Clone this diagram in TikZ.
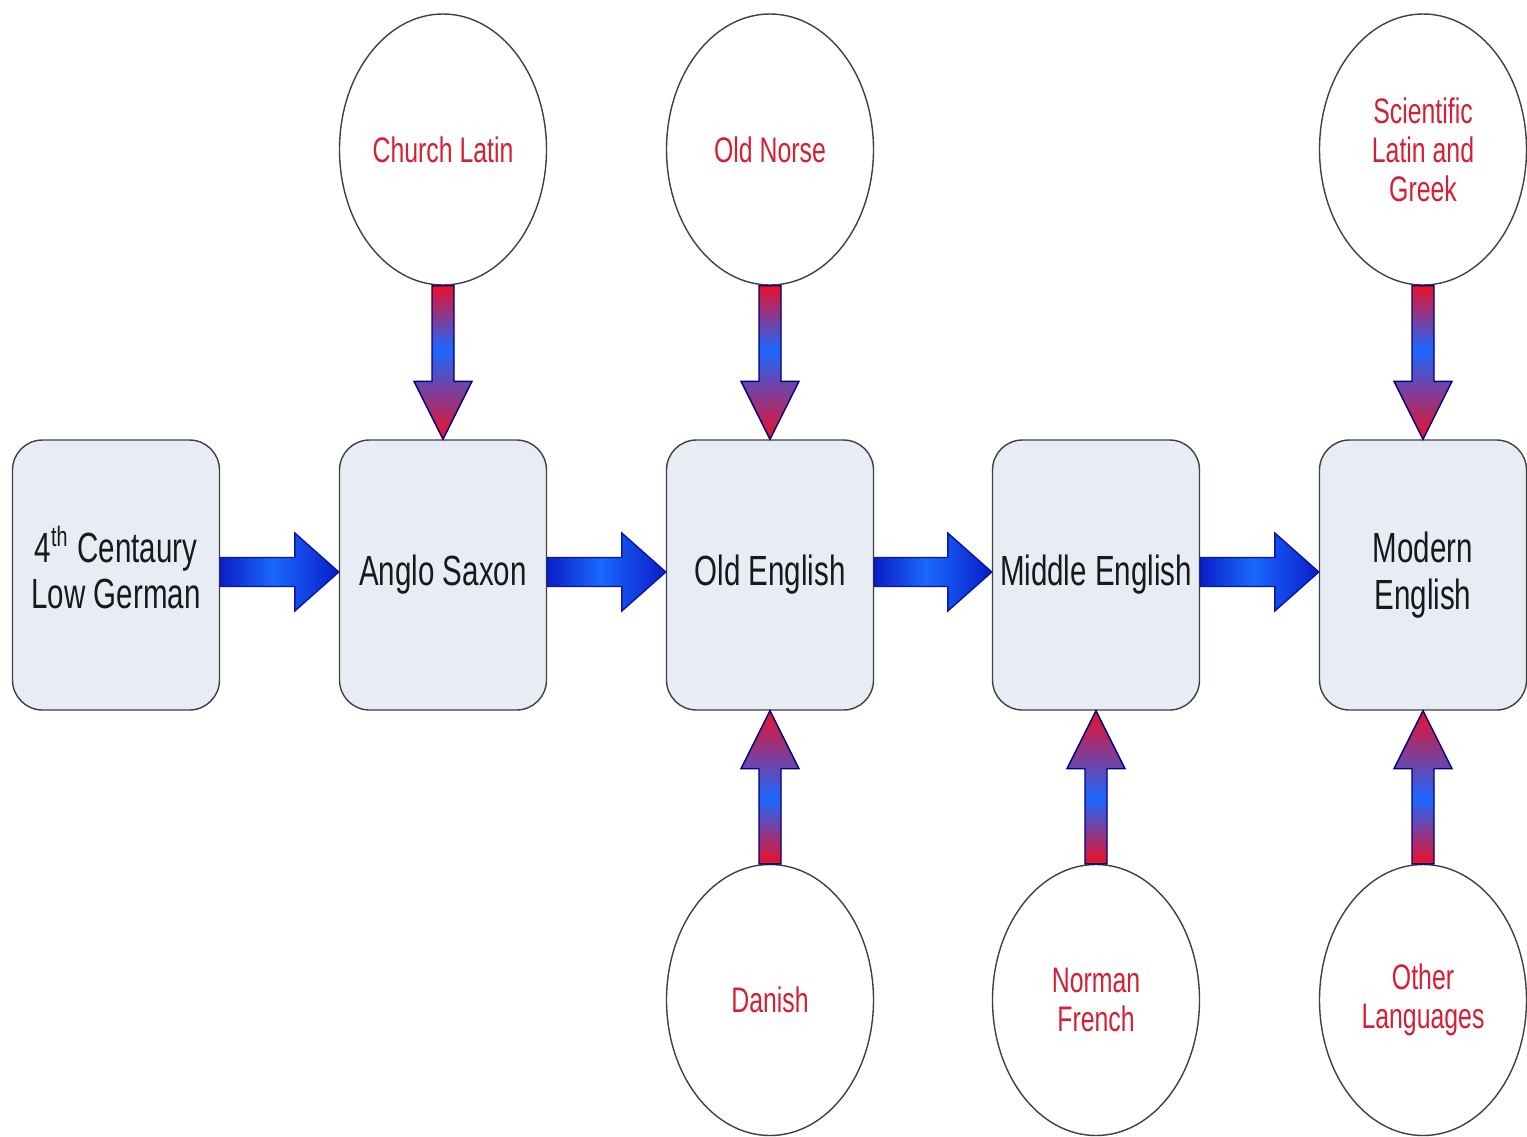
\documentclass[tikz,border=0pt]{standalone}
\usepackage{fontspec}
\setmainfont{Liberation Sans}[FakeStretch=0.70]
\usetikzlibrary{shapes.geometric,calc}
\definecolor{boxfill}{RGB}{232,236,245}
\definecolor{srcred}{RGB}{212,32,52}
\definecolor{arrred}{RGB}{236,16,40}
\definecolor{arrblue}{RGB}{26,104,255}
\definecolor{darkblue}{RGB}{10,30,200}
\tikzset{
	stage/.style={rectangle,rounded corners=0.3cm,draw=black!75,fill=boxfill,
		minimum width=2.07cm,minimum height=2.70cm,inner sep=0pt,align=center,
		text=black!90,font=\fontsize{12}{13.2}\selectfont},
	source/.style={ellipse,draw=black!75,minimum width=2.07cm,minimum height=2.71cm,
		inner sep=0pt,align=center,text=srcred,font=\fontsize{10.1}{11.1}\selectfont},
	harrow/.style={draw=darkblue!80!black,thin},
	varrow/.style={draw=blue!50!black,thin}
}
\begin{document}
\begin{tikzpicture}
		\useasboundingbox (0,0) rectangle (15.27,11.36);
		% stages of English
		\begin{scope}[every node/.style={stage}]
		\node (lg) at (1.16,5.61) {4\smash{\textsuperscript{th}} Centaury\\Low German\vphantom{g}};
		\node (as) at (4.43,5.61) {Anglo Saxon};
		\node (oe) at (7.70,5.61) {Old English};
		\node (me) at (10.96,5.61) {Middle English};
		\node (mo) at (14.23,5.61) {Modern\\English};
		\end{scope}
		% influences
		\begin{scope}[every node/.style={source}]
		\node (cl) at (4.43,9.865) {Church Latin};
		\node (on) at (7.70,9.865) {Old Norse};
		\node (sg) at (14.23,9.865) {Scientific\\Latin and\\Greek};
		\node (da) at (7.70,1.36) {Danish};
		\node (nf) at (10.96,1.36) {Norman\\French};
		\node (ol) at (14.23,1.36) {Other\\Languages};
		\end{scope}
		% stage to stage, blue shaded by stripes
		\foreach \a/\b in {lg/as,as/oe,oe/me,me/mo}{
		\coordinate (tail) at ($(\a.east)+(0,0.03)$);
		\coordinate (tip) at ($(\b.west)+(0,0.03)$);
		\coordinate (base) at ($(tip)!0.44cm!(tail)$);
		\begin{scope}
		\clip ($(tail)+(0,0.145)$) -- ($(base)+(0,0.145)$) -- ($(base)+(0,0.39)$) -- (tip)
			-- ($(base)+(0,-0.39)$) -- ($(base)+(0,-0.145)$) -- ($(tail)+(0,-0.145)$) -- cycle;
		\foreach \k in {0,...,29}{
			\pgfmathtruncatemacro\w{100*min((\k+0.5)/0.45/30,(29.5-\k)/0.55/30)}
			\fill[arrblue!\w!darkblue] ($(tail)!{\k/30}!(tip)+(0,-0.4)$) rectangle ($(tail)!{(\k+1.3)/30}!(tip)+(0,0.4)$);
		}
		\end{scope}
		\draw[harrow] ($(tail)+(0,0.145)$) -- ($(base)+(0,0.145)$) -- ($(base)+(0,0.39)$) -- (tip)
			-- ($(base)+(0,-0.39)$) -- ($(base)+(0,-0.145)$) -- ($(tail)+(0,-0.145)$) -- cycle;
		}
		% influence to stage, red-blue-red by stripes
		\foreach \a/\p/\b/\q in {cl/south/as/north,on/south/oe/north,sg/south/mo/north,
			da/north/oe/south,nf/north/me/south,ol/north/mo/south}{
		\coordinate (tail) at (\a.\p);
		\coordinate (tip) at (\b.\q);
		\coordinate (base) at ($(tip)!0.58cm!(tail)$);
		\begin{scope}
		\clip ($(tail)+(-0.11,0)$) -- ($(base)+(-0.11,0)$) -- ($(base)+(-0.29,0)$) -- (tip)
			-- ($(base)+(0.29,0)$) -- ($(base)+(0.11,0)$) -- ($(tail)+(0.11,0)$) -- cycle;
		\foreach \k in {0,...,39}{
			\pgfmathtruncatemacro\w{100*min((\k+0.5)/0.42/40,(39.5-\k)/0.58/40)}
			\fill[arrblue!\w!arrred] ($(tail)!{\k/40}!(tip)+(-0.3,0)$) rectangle ($(tail)!{(\k+1.3)/40}!(tip)+(0.3,0)$);
		}
		\end{scope}
		\draw[varrow] ($(tail)+(-0.11,0)$) -- ($(base)+(-0.11,0)$) -- ($(base)+(-0.29,0)$) -- (tip)
			-- ($(base)+(0.29,0)$) -- ($(base)+(0.11,0)$) -- ($(tail)+(0.11,0)$) -- cycle;
		}
		\end{tikzpicture}
\end{document}
